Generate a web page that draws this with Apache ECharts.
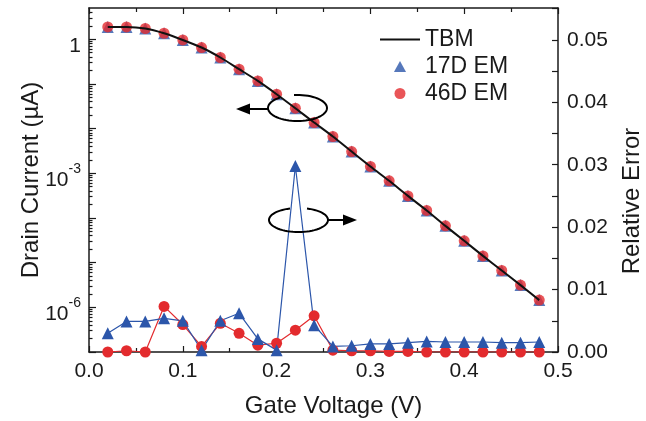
<!DOCTYPE html>
<html><head><meta charset="utf-8">
<script src="https://cdn.jsdelivr.net/npm/echarts@6/dist/echarts.min.js"></script>
<style>html,body{margin:0;padding:0;background:#fff}#c{width:646px;height:421px}</style>
</head><body><div id="c"></div>
<script>
// ---- data ----
const voltage = [0.02,0.04,0.06,0.08,0.10,0.12,0.14,0.16,0.18,0.20,0.22,0.24,0.26,0.28,0.30,0.32,0.34,0.36,0.38,0.40,0.42,0.44,0.46,0.48];
// drain current, µA
const tbmCurrent  = [1.884,1.884,1.738,1.361,0.964,0.652,0.390,0.2133,0.1167,0.0589,0.02858,0.01368,0.006653,0.003069,0.001419,6.776e-4,3.119e-4,1.472e-4,6.653e-5,3.076e-5,1.416e-5,6.683e-6,3.141e-6,1.449e-6];
const em17Current = [1.884,1.884,1.738,1.361,0.964,0.652,0.390,0.2133,0.1167,0.0589,0.02858,0.01368,0.006653,0.003069,0.001419,6.776e-4,3.119e-4,1.472e-4,6.653e-5,3.076e-5,1.416e-5,6.683e-6,3.141e-6,1.449e-6];
const em46Current = [1.884,1.884,1.738,1.361,0.964,0.652,0.390,0.2133,0.1167,0.0589,0.02858,0.01368,0.006653,0.003069,0.001419,6.776e-4,3.119e-4,1.472e-4,6.653e-5,3.076e-5,1.416e-5,6.683e-6,3.141e-6,1.449e-6];
// relative error
const em17Error = [0.0030,0.0049,0.0049,0.0054,0.0050,0.0003,0.0050,0.0062,0.0021,0.0003,0.0298,0.0043,0.0009,0.0010,0.0013,0.0013,0.0015,0.0017,0.0016,0.0016,0.0016,0.0015,0.0015,0.0016];
const em46Error = [0.0000,0.0002,0.0000,0.0073,0.0044,0.0009,0.0046,0.0030,0.0011,0.0014,0.0035,0.0058,0.0003,0.0002,0.0002,0.0001,0.0001,0.0000,0.0000,0.0000,0.0000,0.0000,0.0000,0.0000];
// tick labels
const xTickValues = [0,0.1,0.2,0.3,0.4,0.5];
const xTickLabels = ['0.0','0.1','0.2','0.3','0.4','0.5'];
const currentTickExponents = [-6,-3,0];
const currentTickLabels = ['10{s|-6}','10{s|-3}','1'];
const errorTickValues = [0,0.01,0.02,0.03,0.04,0.05];
const errorTickLabels = ['0.00','0.01','0.02','0.03','0.04','0.05'];

const FONT = '"Liberation Sans", Arial, sans-serif';
const INK = '#1a1a1a';
const RED = '#e32b2e';
const BLUE = '#2c56aa';

const logMin = -7, logMax = Math.log10(5);
const decades = []; for (let d = -7; d <= 0; d++) decades.push(d);
const minorLog = [];
for (let d = -7; d <= 0; d++) for (let k = 2; k <= 9; k++) { const v = d + Math.log10(k); if (v < logMax) minorLog.push(v); }
const errTicks = []; for (let i = 0; i <= 11; i++) errTicks.push(+(i * 0.005).toFixed(3));

const chart = echarts.init(document.getElementById('c'), null, {renderer: 'canvas'});

const axisLine = {show: true, onZero: false, lineStyle: {color: INK, width: 1.5}};
const tickStyle = {color: INK, width: 1.2};

function ellipseArc(cx, cy, rx, ry, t0, t1) {
  const pts = []; const n = 60;
  for (let i = 0; i <= n; i++) { const t = t0 + (t1 - t0) * i / n; pts.push([cx + rx * Math.cos(t), cy + ry * Math.sin(t)]); }
  return pts;
}
function gapAngles(cx, rx, xa, xb) { // top gap between x positions xa..xb
  const ta = -Math.acos((xa - cx) / rx), tb = -Math.acos((xb - cx) / rx);
  return [Math.max(ta, tb), Math.min(ta, tb) + 2 * Math.PI];
}
const r1 = {cx: 297.5, cy: 108, rx: 29.5, ry: 13};
const r2 = {cx: 298.5, cy: 220, rx: 29.5, ry: 12};
const g1 = gapAngles(r1.cx, r1.rx, 280, 294);
const g2 = gapAngles(r2.cx, r2.rx, 290, 307);
const annStyle = {stroke: '#000', lineWidth: 2, fill: null};

const option = {
  animation: false,
  backgroundColor: '#fff',
  grid: {left: 89, right: 88, top: 8, bottom: 69, containLabel: false, outerBoundsMode: 'none'},
  legend: {
    orient: 'vertical', left: 375, top: 23, itemWidth: 40, itemHeight: 11, itemGap: 4,
    symbolKeepAspect: true,
    textStyle: {fontSize: 23, color: INK, fontFamily: FONT},
    data: [
      {name: 'TBM', icon: 'path://M0,0H40V2H0Z'},
      {name: '17D EM', icon: 'path://M5.5,0L11,10H0Z'},
      {name: '46D EM', icon: 'path://M0,5A5,5,0,1,0,10,5A5,5,0,1,0,0,5Z'}
    ]
  },
  xAxis: [
    {type: 'value', position: 'bottom', min: 0, max: 0.5, interval: 0.1,
     axisLine, axisTick: {inside: true, length: 6, lineStyle: tickStyle},
     minorTick: {show: true, splitNumber: 2, length: 4, lineStyle: tickStyle},
     splitLine: {show: false}, minorSplitLine: {show: false},
     axisLabel: {fontSize: 21, color: INK, fontFamily: FONT, margin: 9,
       formatter: v => xTickLabels[xTickValues.findIndex(t => Math.abs(t - v) < 1e-6)] || ''},
     name: 'Gate Voltage (V)', nameLocation: 'middle', nameGap: 42, nameMoveOverlap: false,
     nameTextStyle: {fontSize: 24, color: INK, fontFamily: FONT, padding: [0, 0, 0, 20]}},
    {type: 'value', position: 'top', min: 0, max: 0.5, interval: 0.1,
     axisLine, axisTick: {inside: true, length: 6, lineStyle: tickStyle},
     minorTick: {show: true, splitNumber: 2, length: 4, lineStyle: tickStyle},
     splitLine: {show: false}, minorSplitLine: {show: false}, axisLabel: {show: false}}
  ],
  yAxis: [
    {type: 'value', position: 'left', min: logMin, max: logMax,
     axisLine, axisTick: {inside: true, length: 7, lineStyle: tickStyle, customValues: decades},
     splitLine: {show: false},
     axisLabel: {customValues: currentTickExponents, margin: 8, color: INK, fontFamily: FONT, fontSize: 21,
       formatter: v => '{n|' + (currentTickLabels[currentTickExponents.indexOf(Math.round(v))] || '').replace('{s|', '}{s|') + (v === 0 ? '}' : ''),
       rich: {
         n: {fontSize: 21, color: INK, fontFamily: FONT, padding: [14, 0, 0, 0]},
         s: {fontSize: 14, color: INK, fontFamily: FONT, verticalAlign: 'top', padding: [6, 0, 0, 0]}
       }},
     name: 'Drain Current (\u00b5A)', nameLocation: 'middle', nameGap: 46, nameRotate: 90, nameMoveOverlap: false,
     nameTextStyle: {fontSize: 24, color: INK, fontFamily: FONT}},
    {type: 'value', position: 'right', min: 0, max: 0.0551,
     axisLine, axisTick: {inside: true, length: 6, lineStyle: tickStyle, customValues: errTicks},
     splitLine: {show: false},
     axisLabel: {customValues: errorTickValues, margin: 9, color: INK, fontFamily: FONT, fontSize: 21,
       formatter: v => errorTickLabels[Math.round(v * 100)]},
     name: 'Relative Error', nameLocation: 'middle', nameGap: 62, nameRotate: 90, nameMoveOverlap: false,
     nameTextStyle: {fontSize: 24, color: INK, fontFamily: FONT, padding: [0, 42, 0, 0]}},
    {type: 'value', position: 'left', min: logMin, max: logMax,
     axisLine: {show: false, onZero: false}, axisTick: {inside: true, length: 3.5, lineStyle: tickStyle, customValues: minorLog},
     splitLine: {show: false}, axisLabel: {show: false}}
  ],
  series: [
    {name: 'TBM', type: 'line', xAxisIndex: 0, yAxisIndex: 0, symbol: 'none', smooth: 0.25,
     itemStyle: {color: '#111'}, lineStyle: {color: '#111', width: 2},
     data: voltage.map((v, i) => [v, Math.log10(tbmCurrent[i])])},
    {name: '17D EM', type: 'scatter', xAxisIndex: 0, yAxisIndex: 0, symbol: 'triangle', symbolSize: 12,
     itemStyle: {color: BLUE},
     data: voltage.map((v, i) => [v, Math.log10(em17Current[i])])},
    {name: '46D EM', type: 'scatter', xAxisIndex: 0, yAxisIndex: 0, symbol: 'circle', symbolSize: 11,
     itemStyle: {color: RED},
     data: voltage.map((v, i) => [v, Math.log10(em46Current[i])])},
    {name: '46D EM', type: 'line', xAxisIndex: 0, yAxisIndex: 1, symbol: 'circle', symbolSize: 11,
     itemStyle: {color: RED}, lineStyle: {color: RED, width: 1.2},
     data: voltage.map((v, i) => [v, em46Error[i]])},
    {name: '17D EM', type: 'line', xAxisIndex: 0, yAxisIndex: 1, symbol: 'triangle', symbolSize: 12,
     itemStyle: {color: BLUE}, lineStyle: {color: BLUE, width: 1.2},
     data: voltage.map((v, i) => [v, em17Error[i]])}
  ],
  graphic: [
    {type: 'polyline', shape: {points: ellipseArc(r1.cx, r1.cy, r1.rx, r1.ry, g1[0], g1[1])}, style: annStyle, z: 100},
    {type: 'line', shape: {x1: r1.cx - r1.rx, y1: 109, x2: 248, y2: 109}, style: annStyle, z: 100},
    {type: 'polygon', shape: {points: [[236, 109], [250, 103.5], [250, 114.5]]}, style: {fill: '#000'}, z: 100},
    {type: 'polyline', shape: {points: ellipseArc(r2.cx, r2.cy, r2.rx, r2.ry, g2[0], g2[1])}, style: annStyle, z: 100},
    {type: 'line', shape: {x1: r2.cx + r2.rx, y1: 220, x2: 345, y2: 220}, style: annStyle, z: 100},
    {type: 'polygon', shape: {points: [[357, 220], [343, 214.5], [343, 225.5]]}, style: {fill: '#000'}, z: 100}
  ]
};
chart.setOption(option);
</script>
</body></html>
